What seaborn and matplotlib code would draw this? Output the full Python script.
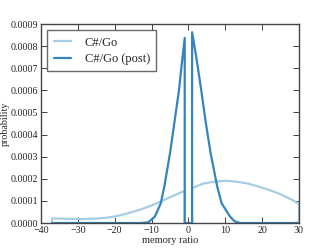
import numpy as np
import pandas as pd
import matplotlib
matplotlib.use("Agg")
import matplotlib.pyplot as plt
import seaborn as sns
from matplotlib.ticker import FormatStrFormatter, MultipleLocator

# --- data (y in units of 1e-4) ---
go_x = [-37, -37, -33, -29, -25, -22, -19, -16, -13, -10, -7, -4, -1, -1,
        1, 1, 4, 7, 10, 13, 16, 19, 22, 25, 28, 30, 30]
go_y = [0, 0.21, 0.19, 0.18, 0.20, 0.24, 0.33, 0.46, 0.61, 0.79, 1.01, 1.24, 1.46, 0,
        0, 1.58, 1.78, 1.87, 1.91, 1.87, 1.79, 1.65, 1.49, 1.30, 1.06, 0.86, 0]

post_x = [-37, -13, -10.9, -9.1, -7.5, -6.55, -5.0, -3.84, -2.56, -1.8, -1, -1,
          1, 1, 2.14, 3.49, 4.7, 6.04, 7.83, 9.02, 11.3, 12.5, 14, 30]
post_y = [0, 0, 0.03, 0.29, 0.89, 1.64, 3.15, 4.5, 6.0, 7.2, 8.37, 0,
          0, 8.63, 7.5, 6.0, 4.55, 3.15, 1.64, 0.89, 0.29, 0.08, 0, 0]

labels = ["C#/Go", "C#/Go (post)"]
xlabel = "memory ratio"
ylabel = "probability"

sns.set_style("ticks")
plt.rcParams['font.family'] = ['Liberation Serif', 'DejaVu Serif']

df1 = pd.DataFrame({"x": go_x, "y": np.array(go_y) * 1e-4})
df2 = pd.DataFrame({"x": post_x, "y": np.array(post_y) * 1e-4})

pal = sns.color_palette("Paired")
fig = plt.figure(figsize=(3.32, 2.49), dpi=100)
ax = fig.add_axes([0.1235, 0.1044, 0.777, 0.7992])

sns.lineplot(data=df1, x="x", y="y", sort=False, estimator=None, ax=ax,
             color=pal[0], lw=1.6, label=labels[0])
sns.lineplot(data=df2, x="x", y="y", sort=False, estimator=None, ax=ax,
             color='#3385c0', lw=1.6, label=labels[1])

ax.set_xlim(-40, 30)
ax.set_ylim(0, 0.0009)
ax.xaxis.set_major_locator(MultipleLocator(10))
ax.yaxis.set_major_locator(MultipleLocator(0.0001))
ax.yaxis.set_major_formatter(FormatStrFormatter('%.4f'))
ax.tick_params(direction='in', top=True, right=True, length=4, width=0.6,
               labelsize=7.2, colors='#222222', pad=2)
for sp in ax.spines.values():
    sp.set_color('#444444')
    sp.set_linewidth(1.0)
ax.set_xlabel(xlabel, fontsize=7.5, labelpad=1)
ylab = ax.set_ylabel(ylabel, fontsize=7.2)

leg = ax.legend(loc='upper left', fontsize=9, frameon=True, fancybox=False,
                handlelength=1.4, handletextpad=1.1, borderpad=0.5,
                labelspacing=0.35, borderaxespad=0.5)
leg.get_frame().set_edgecolor('#444444')
leg.get_frame().set_linewidth(1.0)

# place the y label just left of the tick labels, but inside the figure
fig.canvas.draw()
r = fig.canvas.get_renderer()
x0 = min(t.get_window_extent(r).x0 for t in ax.get_yticklabels() if t.get_text())
lab_w = ylab.get_window_extent(r).width
cx = max(x0 - 1 - lab_w / 2, lab_w / 2 + 1)
axbb = ax.get_window_extent(r)
ax.yaxis.set_label_coords((cx - axbb.x0) / axbb.width, 0.5)
ylab.set_ha('center')
ylab.set_va('center')

fig.savefig("out.png", dpi=100)
